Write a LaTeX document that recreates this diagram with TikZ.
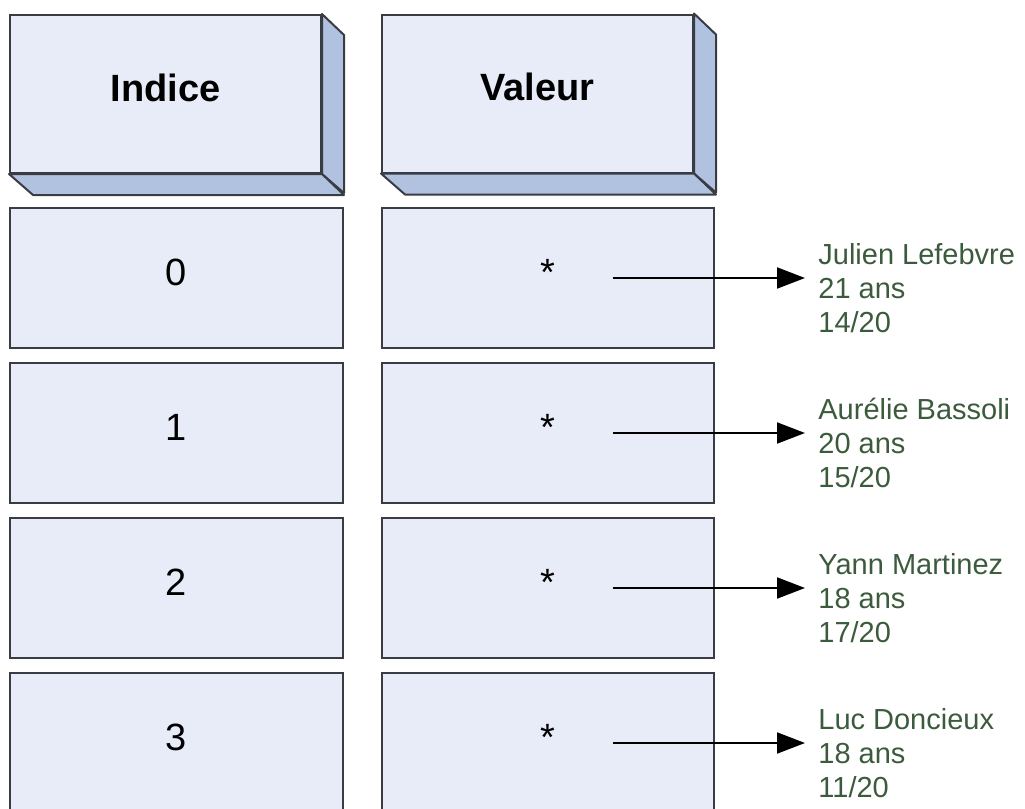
\documentclass[tikz,border=0pt]{standalone}
\usepackage{fontspec}
\setmainfont{Liberation Sans}
\usetikzlibrary{arrows.meta}
\definecolor{cellfill}{RGB}{232,236,248}
\definecolor{sidefill}{RGB}{176,194,224}
\definecolor{edgegray}{RGB}{58,60,68}
\definecolor{textgreen}{RGB}{60,90,60}
\begin{document}
\begin{tikzpicture}[x=0.5pt,y=-0.5pt,
  cell/.style={draw=edgegray, line width=1pt, fill=cellfill, inner sep=0pt, font=\fontsize{19}{22}\selectfont, text height=0.72em, text depth=0pt},
  idxcell/.style={cell, minimum width=166.5pt, minimum height=70pt},
  valcell/.style={cell, minimum width=166pt, minimum height=70pt},
  head/.style={cell, minimum width=155.5pt, minimum height=79pt, font=\fontsize{19}{22}\selectfont\bfseries},
  side/.style={draw=edgegray, line width=1pt, fill=sidefill, line join=round},
  person/.style={align=left, anchor=west, inner xsep=6.5pt, inner ysep=0pt, text=textgreen, font=\fontsize{14.5}{17}\selectfont},
  pointer/.style={-{Triangle[length=14pt,width=10.5pt]}, line width=1pt}]
\useasboundingbox (0,0) rectangle (1025,809);
\node[head] (hidx) at (165.5,94) {Indice};
\filldraw[side] (hidx.north east) -- ++(22,21) -- ++(0,158) -- (hidx.south east) -- cycle;
\filldraw[side] (hidx.south west) -- (hidx.south east) -- ++(22,21) -- ++(-311,0) -- cycle;
\node[head] (hval) at (537.5,93.5) {Valeur};
\filldraw[side] (hval.north east) -- ++(22,21) -- ++(0,158) -- (hval.south east) -- cycle;
\filldraw[side] (hval.south west) -- (hval.south east) -- ++(22,21) -- ++(-311,0) -- cycle;
\node[idxcell] (i0) at (176,278) {0};
\node[idxcell] (i1) at (176,433) {1};
\node[idxcell] (i2) at (176,588) {2};
\node[idxcell] (i3) at (176,743) {3};
\node[valcell] (v0) at (548,278) {*};
\node[valcell] (v1) at (548,433) {*};
\node[valcell] (v2) at (548,588) {*};
\node[valcell] (v3) at (548,743) {*};
\coordinate (s0) at (613,278);
\coordinate (s1) at (613,433);
\coordinate (s2) at (613,588);
\coordinate (s3) at (613,743);
\node[person] (p0) at (805,288) {Julien Lefebvre\\21 ans\\14/20};
\node[person] (p1) at (805,443) {Aurélie Bassoli\\20 ans\\15/20};
\node[person] (p2) at (805,598) {Yann Martinez\\18 ans\\17/20};
\node[person] (p3) at (805,753) {Luc Doncieux\\18 ans\\11/20};
\draw[pointer] (s0) -- (s0 -| p0.west);
\draw[pointer] (s1) -- (s1 -| p1.west);
\draw[pointer] (s2) -- (s2 -| p2.west);
\draw[pointer] (s3) -- (s3 -| p3.west);
\end{tikzpicture}
\end{document}
